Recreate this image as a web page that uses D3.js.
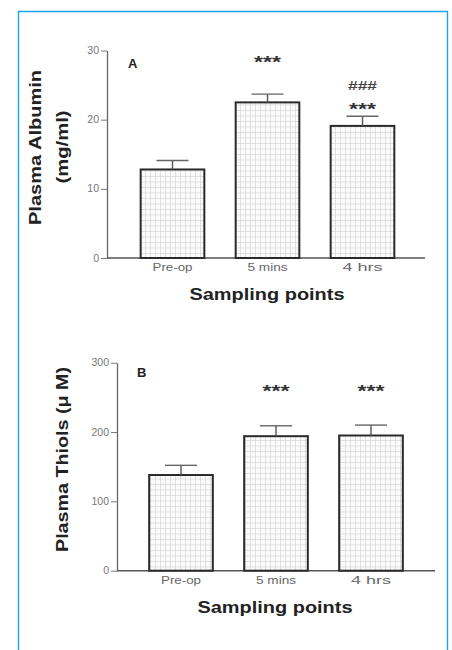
<!DOCTYPE html>
<html>
<head>
<meta charset="utf-8">
<script src="https://cdn.jsdelivr.net/npm/d3@7"></script>
<style>
html,body{margin:0;padding:0;background:#fff;}
svg{display:block;}
</style>
</head>
<body>
<svg id="chart" width="452" height="650"></svg>
<script>
// ---- data ----
const categories = ["Pre-op", "5 mins", "4 hrs"];
const albuminMean = [12.8, 22.5, 19.1];
const albuminErr = [1.3, 1.2, 1.4];
const albuminTicks = [0, 10, 20, 30];
const albuminStars = ["", "***", "***"];
const albuminHashes = ["", "", "###"];

const thiolsMean = [138, 194, 195];
const thiolsErr = [14, 15, 15];
const thiolsTicks = [0, 100, 200, 300];
const thiolsStars = ["", "***", "***"];

const svg = d3.select("#chart");
const FONT = "Liberation Sans, Arial, sans-serif";

// blue frame
svg.append("path")
  .attr("d", "M18.5,660 V11.5 H447.5 V660")
  .attr("fill", "none").attr("stroke", "#17a6ea").attr("stroke-width", 1.4);

// pattern
const defs = svg.append("defs");
const pat = defs.append("pattern").attr("id", "grid")
  .attr("patternUnits", "userSpaceOnUse").attr("width", 5).attr("height", 5.5);
pat.append("rect").attr("width", 5).attr("height", 5.5).attr("fill", "#fbfbfb");
pat.append("path").attr("d", "M0,0.3 H5 M0.3,0 V5.5")
  .attr("stroke", "#cdcdcd").attr("stroke-width", 0.7);

function panel(cfg) {
  const g = svg.append("g");
  const x = d3.scaleBand().domain(categories).range(cfg.xRange)
    .paddingInner(0.33).paddingOuter(0.165);
  const y = d3.scaleLinear().domain([0, cfg.ticks[cfg.ticks.length - 1]]).range(cfg.yRange);

  // y axis
  const yAxis = d3.axisLeft(y).tickValues(cfg.ticks).tickSize(6).tickSizeOuter(0).tickPadding(2);
  const ya = g.append("g").attr("transform", `translate(${cfg.axisX},0)`).call(yAxis);
  ya.select(".domain").attr("stroke", "#666").attr("stroke-width", 1.3);
  ya.selectAll(".tick line").attr("stroke", "#777").attr("stroke-width", 1);
  ya.selectAll(".tick text").attr("fill", "#777").attr("font-family", FONT)
    .attr("font-size", 10.5).attr("dy", "0.3em");

  // x axis baseline
  g.append("line").attr("x1", cfg.axisX).attr("x2", cfg.axisEnd)
    .attr("y1", y(0)).attr("y2", y(0)).attr("stroke", "#555").attr("stroke-width", 1.4);

  // bars
  g.selectAll("rect.bar").data(categories).join("rect").attr("class", "bar")
    .attr("x", d => x(d)).attr("width", x.bandwidth())
    .attr("y", (d, i) => y(cfg.mean[i]))
    .attr("height", (d, i) => y(0) - y(cfg.mean[i]))
    .attr("fill", "url(#grid)").attr("stroke", "#2a2a2a").attr("stroke-width", 2);

  // error bars
  const eb = g.selectAll("g.err").data(categories).join("g").attr("class", "err");
  eb.append("line")
    .attr("x1", d => x(d) + x.bandwidth() / 2).attr("x2", d => x(d) + x.bandwidth() / 2)
    .attr("y1", (d, i) => y(cfg.mean[i])).attr("y2", (d, i) => y(cfg.mean[i] + cfg.err[i]))
    .attr("stroke", "#555").attr("stroke-width", 1.4);
  eb.append("line")
    .attr("x1", d => x(d) + x.bandwidth() / 2 - 16).attr("x2", d => x(d) + x.bandwidth() / 2 + 16)
    .attr("y1", (d, i) => y(cfg.mean[i] + cfg.err[i])).attr("y2", (d, i) => y(cfg.mean[i] + cfg.err[i]))
    .attr("stroke", "#666").attr("stroke-width", 1.4);

  // category labels
  g.selectAll("text.cat").data(categories).join("text").attr("class", "cat")
    .attr("x", d => x(d) + x.bandwidth() / 2).attr("y", y(0) + 13)
    .attr("text-anchor", "middle").attr("font-family", FONT)
    .attr("font-size", 10.5).attr("fill", "#666")
    .attr("textLength", 40).attr("lengthAdjust", "spacingAndGlyphs")
    .text(d => d);

  // stars
  g.selectAll("text.star").data(categories.filter((d, i) => cfg.stars[i])).join("text").attr("class", "star")
    .attr("x", d => x(d) + x.bandwidth() / 2).attr("y", d => cfg.starY[categories.indexOf(d)])
    .attr("text-anchor", "middle").attr("font-family", FONT)
    .attr("font-weight", "bold").attr("font-size", 16).attr("fill", "#333")
    .attr("textLength", 27).attr("lengthAdjust", "spacingAndGlyphs")
    .text(d => cfg.stars[categories.indexOf(d)]);
  if (cfg.hashes) {
    g.selectAll("text.hash").data(categories.filter((d, i) => cfg.hashes[i])).join("text").attr("class", "hash")
      .attr("x", d => x(d) + x.bandwidth() / 2).attr("y", cfg.hashY)
      .attr("text-anchor", "middle").attr("font-family", FONT)
      .attr("font-weight", "bold").attr("font-size", 12).attr("fill", "#444")
      .attr("textLength", 29).attr("lengthAdjust", "spacingAndGlyphs")
      .text(d => cfg.hashes[categories.indexOf(d)]);
  }

  // panel letter
  g.append("text").attr("x", cfg.letterX).attr("y", cfg.letterY)
    .attr("font-family", FONT).attr("font-weight", "bold")
    .attr("font-size", 13).attr("fill", "#222").text(cfg.letter);

  // x title
  g.append("text").attr("x", cfg.xTitleX).attr("y", cfg.xTitleY)
    .attr("text-anchor", "middle").attr("font-family", FONT)
    .attr("font-weight", "bold").attr("font-size", 17).attr("fill", "#222")
    .attr("textLength", 155).attr("lengthAdjust", "spacingAndGlyphs")
    .text("Sampling points");

  // y title lines
  cfg.yTitle.forEach(t => {
    g.append("text").attr("transform", `translate(${t.x},${t.cy}) rotate(-90)`)
      .attr("text-anchor", "middle").attr("font-family", FONT)
      .attr("font-weight", "bold").attr("font-size", 16).attr("fill", "#222")
      .attr("textLength", t.len).attr("lengthAdjust", "spacingAndGlyphs")
      .text(t.text);
  });
}

panel({
  mean: albuminMean, err: albuminErr, ticks: albuminTicks, stars: albuminStars, hashes: albuminHashes,
  xRange: [125, 410], yRange: [258, 50.5], axisX: 107, axisEnd: 425,
  starY: [0, 68, 115], hashY: 90,
  letter: "A", letterX: 128, letterY: 68,
  xTitleX: 267, xTitleY: 300,
  yTitle: [{text: "Plasma Albumin", x: 41, cy: 147.5, len: 155},
           {text: "(mg/ml)", x: 68, cy: 147, len: 73}]
});

panel({
  mean: thiolsMean, err: thiolsErr, ticks: thiolsTicks, stars: thiolsStars,
  xRange: [133.5, 418.5], yRange: [570.7, 362.7], axisX: 117, axisEnd: 435,
  starY: [0, 397, 397],
  letter: "B", letterX: 137, letterY: 377,
  xTitleX: 275, xTitleY: 613,
  yTitle: [{text: "Plasma Thiols (\u03bc M)", x: 68, cy: 459.5, len: 185}]
});
</script>
</body>
</html>
